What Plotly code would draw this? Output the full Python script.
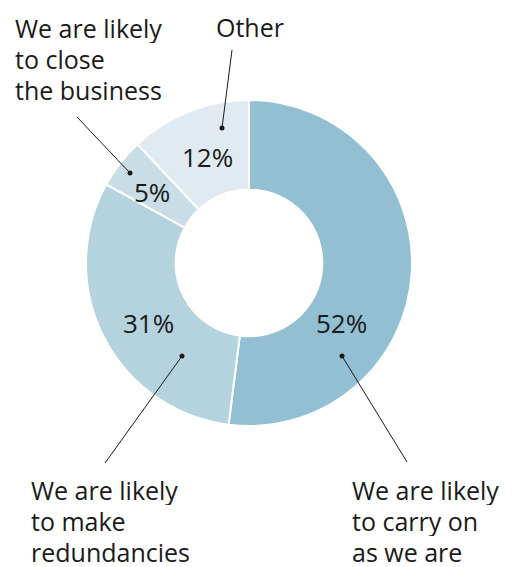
import plotly.graph_objects as go

# Survey answers, in the order they run clockwise from 12 o'clock
labels = [
    ["We are likely", "to carry on", "as we are"],
    ["We are likely", "to make", "redundancies"],
    ["We are likely", "to close", "the business"],
    ["Other"],
]
values = [52, 31, 5, 12]
colors = ["#93bfd3", "#b4d3df", "#c8dde6", "#e1eaf0"]

W, H = 513, 567
FONT = "Open Sans"
INK = "#1a1a1a"
LABEL_SIZE = 25
PCT_SIZE = 26
LINE_GAP = 31  # px between label lines (also each line's box height)


def px(x, y):
    """Pixel position -> paper coordinates."""
    return x / W, 1 - y / H


# Pie placement: centre (249, 263), outer radius 163 px
cx, cy, R = 249, 263, 163
x0, y1 = px(cx - R, cy - R)
x1, y0 = px(cx + R, cy + R)

fig = go.Figure(
    go.Pie(
        values=values,
        labels=[" ".join(l) for l in labels],
        sort=False,
        direction="clockwise",
        rotation=0,
        hole=0.45,
        marker=dict(colors=colors, line=dict(color="white", width=2)),
        textinfo="none",
        hoverinfo="label+percent",
        showlegend=False,
        domain=dict(x=[x0, x1], y=[y0, y1]),
    )
)

# Per-slice callout layout: percentage text, dot, line end, label anchor
pct_pos = [(341.5, 323), (148.5, 323), (151.5, 191.5), (207, 157)]
dot_pos = [(342, 356), (182, 356), (130, 173), (222, 128)]
line_end = [(407, 462), (105, 463), (77, 117), (232, 50)]
label_pos = [(351, 489.5, "left"), (30, 489.5, "left"), (14, 27.5, "left"), (249.5, 26.5, "center")]

annotations = []
shapes = []
for i, v in enumerate(values):
    ax, ay = px(*pct_pos[i])
    annotations.append(dict(
        x=ax, y=ay, xref="paper", yref="paper", text=f"{v}%",
        showarrow=False, xanchor="center", yanchor="middle",
        font=dict(family=FONT, size=PCT_SIZE, color=INK),
    ))
    lx, ly, anchor = label_pos[i]
    for k, line in enumerate(labels[i]):
        lxp, lyp = px(lx, ly + k * LINE_GAP)
        annotations.append(dict(
            x=lxp, y=lyp, xref="paper", yref="paper", text=line,
            showarrow=False, xanchor=anchor, yanchor="middle",
            height=LINE_GAP, valign="middle", borderpad=0,
            font=dict(family=FONT, size=LABEL_SIZE, color=INK),
        ))
    dx, dy = dot_pos[i]
    ex, ey = line_end[i]
    p0 = px(dx, dy)
    p1 = px(ex, ey)
    shapes.append(dict(
        type="line", xref="paper", yref="paper",
        x0=p0[0], y0=p0[1], x1=p1[0], y1=p1[1],
        line=dict(color=INK, width=1),
    ))
    r = 2.5
    c0 = px(dx - r, dy + r)
    c1 = px(dx + r, dy - r)
    shapes.append(dict(
        type="circle", xref="paper", yref="paper",
        x0=c0[0], y0=c0[1], x1=c1[0], y1=c1[1],
        fillcolor=INK, line=dict(color=INK, width=0),
    ))

fig.update_layout(
    width=W, height=H,
    margin=dict(l=0, r=0, t=0, b=0),
    paper_bgcolor="white",
    plot_bgcolor="white",
    annotations=annotations,
    shapes=shapes,
)

fig.write_html("out.html")
